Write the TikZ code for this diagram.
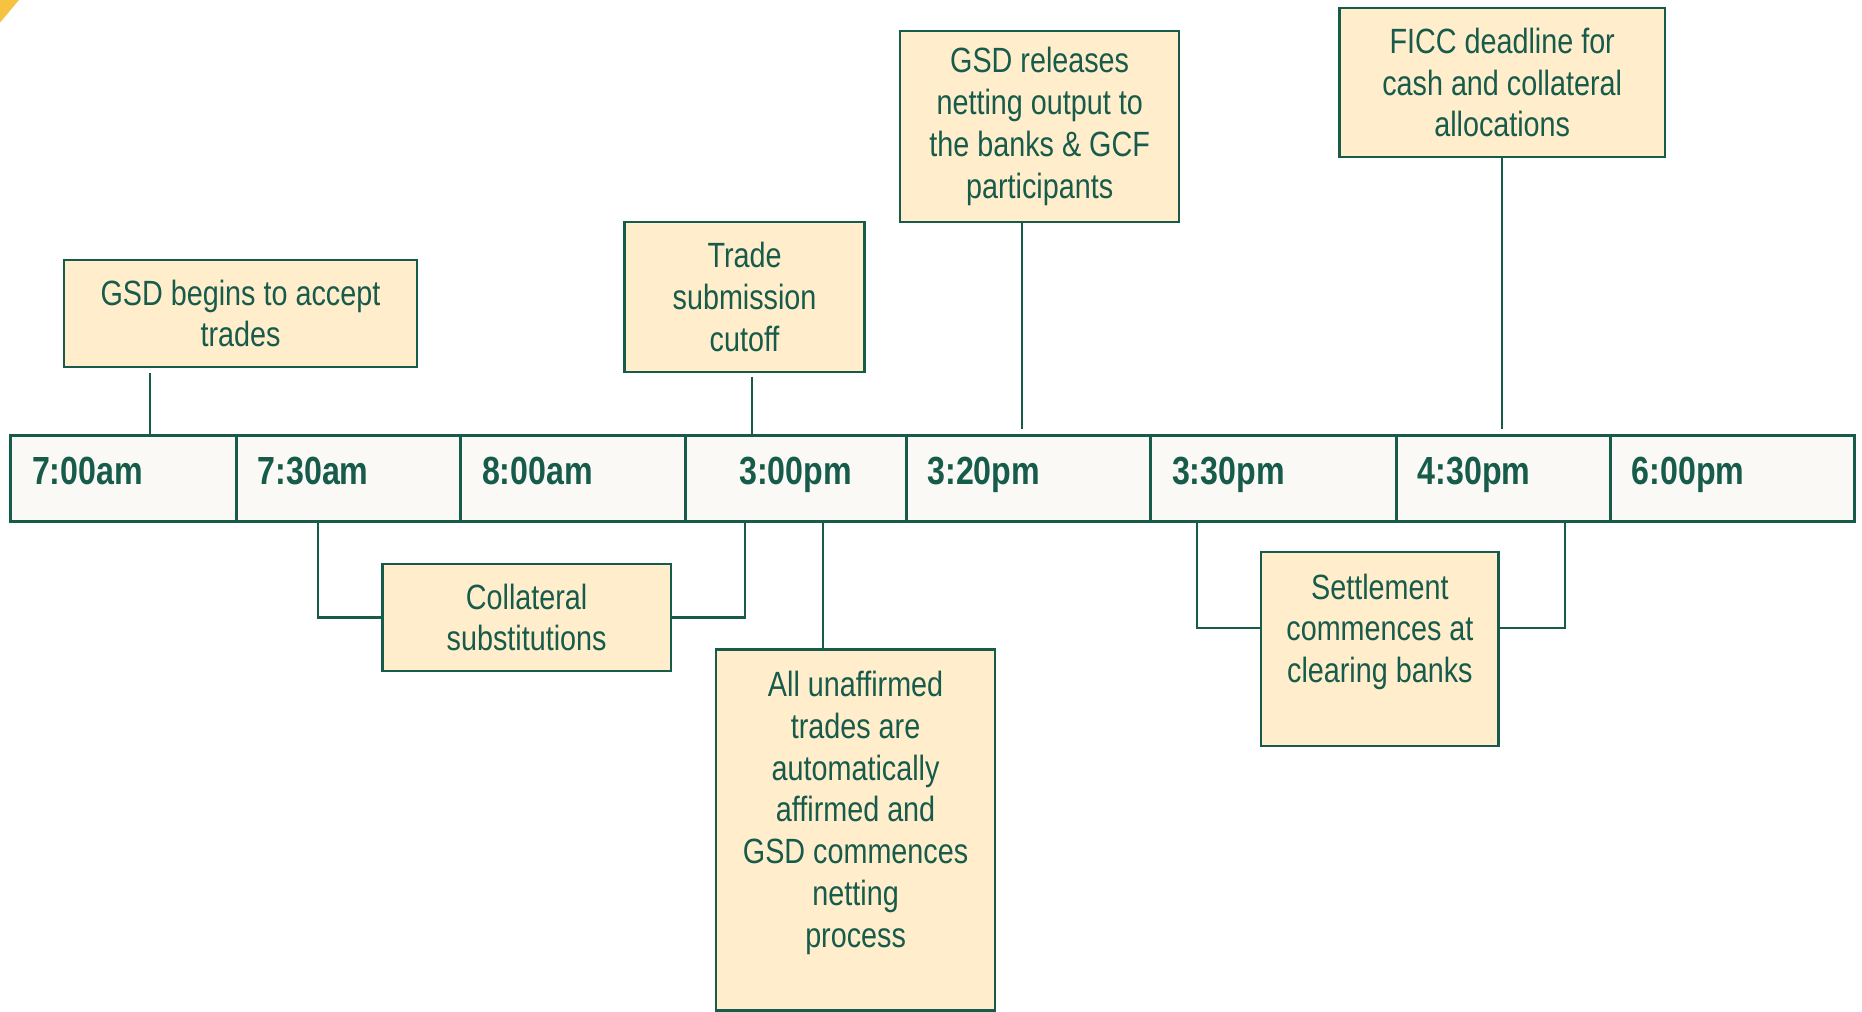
\documentclass[tikz,border=0pt]{standalone}
\usepackage{fontspec}
\setmainfont{Liberation Sans}[FakeStretch=0.82]
\usepackage{tikz}
\usetikzlibrary{calc}
\usetikzlibrary{positioning}
\definecolor{dkgreen}{HTML}{175B4B}
\definecolor{boxfill}{HTML}{FFEDCC}
\definecolor{barfill}{HTML}{FAF9F5}
\definecolor{cornergold}{HTML}{F5C242}
\tikzstyle{event} = [rectangle, draw=dkgreen, line width=1.4pt, fill=boxfill, text=dkgreen, align=center, inner sep=0pt, font=\fontsize{21}{25}\selectfont]
\tikzstyle{slot} = [rectangle, draw=dkgreen, line width=1.8pt, fill=barfill, text=dkgreen, align=left, minimum height=1.8cm, inner xsep=0.45cm, inner ysep=0pt, text height=0.72em, text depth=0em, font=\fontsize{23.5}{28}\selectfont\bfseries]
\tikzstyle{link} = [draw=dkgreen, line width=1.2pt]

\begin{document}
\begin{tikzpicture}[x=0.025cm, y=-0.025cm, scale=1.0, every node/.style={scale=1.0}]

    \useasboundingbox (0,0) rectangle (1568,852);
    \fill[cornergold] (0,0) -- (16,0) -- (0,19) -- cycle;

    % time slots
    \node[slot, text width=3.85cm] (t700) at (104,403) {7:00am};
    \node[slot, text width=3.825cm] (t730) at (293.5,403) {7:30am};
    \node[slot, text width=3.825cm] (t800) at (482.5,403) {8:00am};
    \node[slot, text width=3.75cm, align=center] (t300) at (670,403) {3:00pm};
    \node[slot, text width=4.25cm] (t320) at (866,403) {3:20pm};
    \node[slot, text width=4.275cm] (t330) at (1072.5,403) {3:30pm};
    \node[slot, text width=3.6cm] (t430) at (1266,403) {4:30pm};
    \node[slot, text width=4.25cm] (t600) at (1459,403) {6:00pm};

    % events above
    \node[event,
        minimum width=7.425cm,
        minimum height=2.25cm]
    (accept) at (202.5,264) {
        GSD begins to accept\\
        trades
    };

    \node[event,
        minimum width=5.05cm,
        minimum height=3.15cm]
    (cutoff) at (627,250) {
        Trade\\
        submission\\
        cutoff
    };

    \node[event,
        minimum width=5.875cm,
        minimum height=4.025cm]
    (release) at (875.5,106.5) {
        GSD releases\\
        netting output to\\
        the banks \& GCF\\
        participants
    };

    \node[event,
        minimum width=6.85cm,
        minimum height=3.125cm]
    (ficc) at (1265,69.5) {
        FICC deadline for\\
        cash and collateral\\
        allocations
    };

    % events below
    \node[event,
        minimum width=6.075cm,
        minimum height=2.25cm]
    (collsub) at (443.5,520) {
        Collateral\\
        substitutions
    };

    \node[event,
        minimum width=5.875cm,
        minimum height=7.6cm]
    (netting) at (720.5,699) {
        All unaffirmed\\
        trades are\\
        automatically\\
        affirmed and\\
        GSD commences\\
        netting\\
        process\\
        \mbox{}
    };

    \node[event,
        minimum width=5.0cm,
        minimum height=4.075cm]
    (settle) at (1162,546.5) {
        Settlement\\
        commences at\\
        clearing banks\\
        \mbox{}
    };

    \draw [link] ([xshift=-1.91cm, yshift=-0.1cm]accept.south) -- ([xshift=-1.91cm]accept.south |- t700.north);
    \draw [link] ([xshift=0.15cm, yshift=-0.08cm]cutoff.south) -- ([xshift=0.15cm]cutoff.south |- t300.north);
    \draw [link] ([xshift=-0.3625cm]release.south) -- ([xshift=-0.3625cm, yshift=0.12cm]release.south |- t320.north);
    \draw [link] (ficc.south) -- ([yshift=0.12cm]ficc.south |- t430.north);
    \draw [link] ([xshift=-0.64cm]t730.south) |- (collsub.west);
    \draw [link] (collsub.east) -| ([xshift=-1.075cm]t300.south);
    \draw [link] ([xshift=-0.6875cm]netting.north) -- ([xshift=-0.6875cm]netting.north |- t300.south);
    \draw [link] ([xshift=-1.6125cm]t330.south) |- ([yshift=0.44cm]settle.west);
    \draw [link] ([yshift=0.44cm]settle.east) -| ([xshift=1.3cm]t430.south);

\end{tikzpicture}
\end{document}
